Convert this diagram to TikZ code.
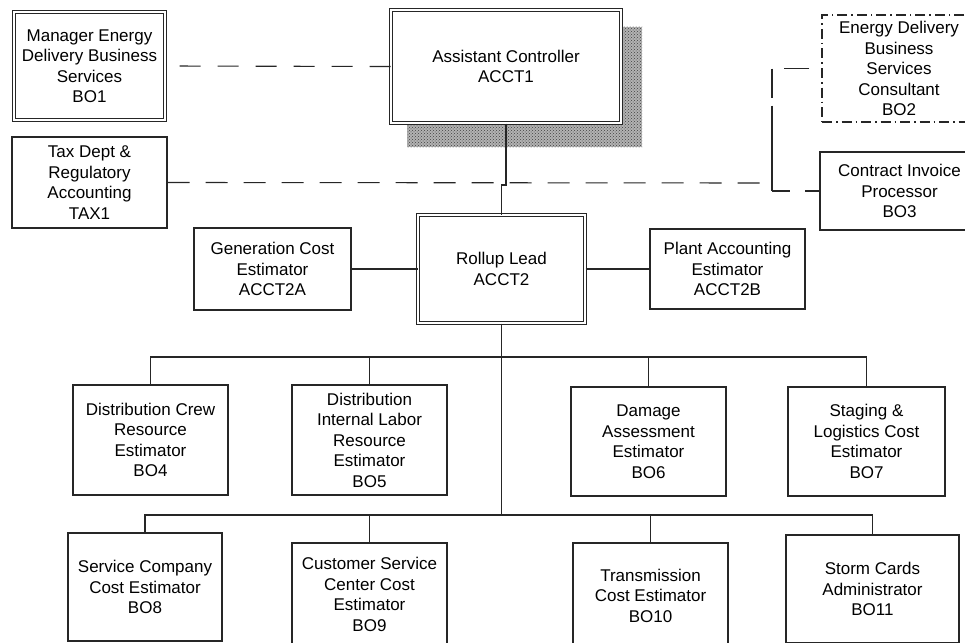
\documentclass[tikz,border=0pt]{standalone}
\usepackage{fontspec}
\setmainfont{Liberation Sans}
\usetikzlibrary{patterns}
\newcommand\bxfont{\fontsize{17}{20.5}\selectfont}
\begin{document}
\begin{tikzpicture}[x=1pt,y=-1pt,
  ln/.style={line width=1.1pt, draw=black!85},
  box/.style={ln, draw, fill=white, align=center, inner sep=0pt, font=\bxfont},
  dbl/.style={box, line width=1pt, double=white, double distance=2pt},
  dashln/.style={ln, dash pattern=on 21pt off 17pt},
  ]
\clip (0,0) rectangle (965,642);
\fill[white] (0,0) rectangle (965,642);
% shadow of ACCT1
\fill[gray!60] (407,27) rectangle (642,147);
\fill[pattern=crosshatch dots, pattern color=black!75] (407,27) rectangle (642,147);
% top nodes
\node[dbl, minimum width=151pt, minimum height=108pt] (BO1) at (89.5,66) {Manager Energy\\Delivery Business\\Services\\BO1};
\node[dbl, minimum width=230pt, minimum height=113pt] (ACCT1) at (506,66.5) {Assistant Controller\\ACCT1};
\node[box, minimum width=155pt, minimum height=91pt] (TAX1) at (89.5,182.5) {Tax Dept \&\\Regulatory\\Accounting\\TAX1};
\node[box, dash pattern=on 10pt off 4pt on 1.5pt off 4pt, minimum width=154pt, minimum height=107pt] (BO2) at (899,68.5) {Energy Delivery\\Business\\Services\\Consultant\\BO2};
\node[box, minimum width=159pt, minimum height=78pt] (BO3) at (899.5,191) {Contract Invoice\\Processor\\BO3};
% second level
\node[dbl, minimum width=167pt, minimum height=108pt] (ACCT2) at (501.5,269) {Rollup Lead\\ACCT2};
\node[box, minimum width=157pt, minimum height=82pt] (ACCT2A) at (272.5,269) {Generation Cost\\Estimator\\ACCT2A};
\node[box, minimum width=155pt, minimum height=80pt] (ACCT2B) at (727.5,269) {Plant Accounting\\Estimator\\ACCT2B};
% row 1
\node[box, minimum width=155pt, minimum height=110pt] (BO4) at (150.5,440) {Distribution Crew\\Resource\\Estimator\\BO4};
\node[box, minimum width=155pt, minimum height=110pt] (BO5) at (369.5,440) {Distribution\\Internal Labor\\Resource\\Estimator\\BO5};
\node[box, minimum width=155pt, minimum height=109pt] (BO6) at (648.5,441.5) {Damage\\Assessment\\Estimator\\BO6};
\node[box, minimum width=157pt, minimum height=109pt] (BO7) at (866.5,441.5) {Staging \&\\Logistics Cost\\Estimator\\BO7};
% row 2
\node[box, minimum width=154pt, minimum height=108pt] (BO8) at (145,587) {Service Company\\Cost Estimator\\BO8};
\node[box, minimum width=155pt, minimum height=103pt] (BO9) at (369.5,594.5) {Customer Service\\Center Cost\\Estimator\\BO9};
\node[box, minimum width=155pt, minimum height=105pt] (BO10) at (650.5,595.5) {Transmission\\Cost Estimator\\BO10};
\node[box, minimum width=173pt, minimum height=108pt] (BO11) at (872.5,589) {Storm Cards\\Administrator\\BO11};
% helper coordinates
\coordinate (bus1) at (0,357);
\coordinate (bus2) at (0,515);
\coordinate (jogy) at (0,185);
\coordinate (jt) at (772,68.5);
\coordinate (jm) at (772,183);
\coordinate (jb) at (772,191);
% dashed lines
\draw[dashln] (ACCT1.west) -- (BO1.east);
\draw[ln, dash pattern=on 22pt off 16pt] (TAX1.east) -- (jm);
\draw[ln, dash pattern=on 0pt off 12pt on 25pt off 40pt] (BO2.west) -- (jt);
\draw[ln, dash pattern=on 29pt off 8pt on 200pt] (jt) -- (jb);
\draw[ln, dash pattern=on 18pt off 15pt on 100pt] (jb) -- (BO3.west);
% solid lines
\draw[ln] (ACCT1.south) -- (ACCT1.south |- jogy) -| (ACCT2.north);
\draw[ln] (ACCT2A.east) -- (ACCT2.west);
\draw[ln] (ACCT2.east) -- (ACCT2B.west);
\draw[ln] (ACCT2.south) -- (ACCT2.south |- bus2);
\draw[ln] (BO4.north) -- (BO4.north |- bus1) -- (BO7.north |- bus1) -- (BO7.north);
\draw[ln] (BO5.north) -- (BO5.north |- bus1);
\draw[ln] (BO6.north) -- (BO6.north |- bus1);
\draw[ln] (BO8.north) -- (BO8.north |- bus2) -- (BO11.north |- bus2) -- (BO11.north);
\draw[ln] (BO9.north) -- (BO9.north |- bus2);
\draw[ln] (BO10.north) -- (BO10.north |- bus2);
\end{tikzpicture}
\end{document}
